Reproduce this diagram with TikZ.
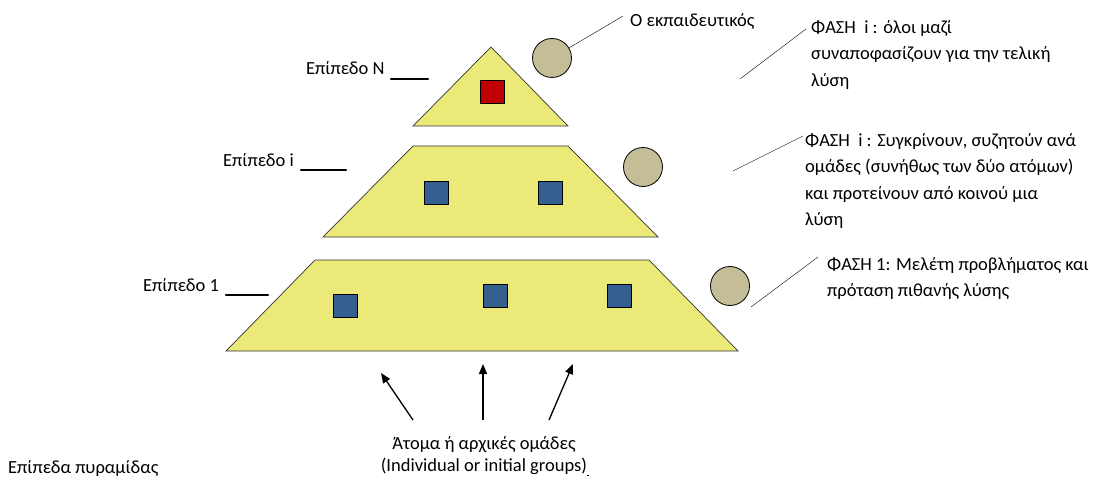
\documentclass[tikz,border=0pt]{standalone}
\usepackage{fontspec}
\setmainfont{Carlito}
\usetikzlibrary{arrows.meta}
\definecolor{pyryellow}{RGB}{235,234,120}
\definecolor{teachcol}{RGB}{196,189,151}
\definecolor{grpblue}{RGB}{53,94,145}
\definecolor{grpred}{RGB}{192,0,0}
\tikzset{
    level/.style={draw=black!80, fill=pyryellow, line width=0.7pt},
    member/.style={draw=black, line width=0.8pt, minimum width=24pt, minimum height=23pt, inner sep=0pt},
    teacher/.style={circle, draw=black, fill=teachcol, line width=0.8pt, minimum size=39pt, inner sep=0pt},
    mark line/.style={line width=2.2pt, line cap=round},
    txt/.style={font=\fontsize{18.5}{26.5}\selectfont, inner sep=0pt, align=left},
    up arrow/.style={-{Triangle[width=8pt,length=10pt]}, line width=1.3pt},
}
\begin{document}
\begin{tikzpicture}[x=1pt, y=-1pt]
    \useasboundingbox (0,0) rectangle (1102,486);
    % pyramid levels
    \draw[level] (491,47) -- (568,126) -- (413,126) -- cycle;
    \draw[level] (413,146) -- (568,146) -- (658,237) -- (323,237) -- cycle;
    \draw[level] (315,260) -- (649,260) -- (738,351) -- (226,351) -- cycle;
    % groups
    \node[member, fill=grpred] (gN) at (492,91.5) {};
    \node[member, fill=grpblue] (gi1) at (436,192.5) {};
    \node[member, fill=grpblue] (gi2) at (550,192.5) {};
    \node[member, fill=grpblue] (g11) at (345,306) {};
    \node[member, fill=grpblue] (g12) at (495,296) {};
    \node[member, fill=grpblue] (g13) at (619,296) {};
    % teacher
    \node[teacher] (tN) at (552,58) {};
    \node[teacher] (ti) at (643,167) {};
    \node[teacher] (t1) at (730,286) {};
    \node[txt, anchor=west] (teach) at (630,21) {Ο εκπαιδευτικός};
    \draw[thin] (tN) -- (623,16);
    % level labels
    \node[txt, anchor=west] (lN) at (306,68) {Επίπεδο Ν};
    \node[txt, anchor=west] (li) at (223,160) {Επίπεδο i};
    \node[txt, anchor=west] (l1) at (143,285) {Επίπεδο 1};
    \draw[mark line] (391,79) -- (428,79);
    \draw[mark line] (301,170) -- (346,170);
    \draw[mark line] (226,295) -- (268,295);
    % phases
    \coordinate (pNa) at (740,79);
    \coordinate (pNb) at (806,29);
    \draw[thin] (pNa) -- (pNb);
    \node[txt, anchor=north west] (phN) at (811,20) {ΦΑΣΗ \ i : όλοι μαζί\\ συναποφασίζουν για την τελική\\ λύση};
    \coordinate (pia) at (733,171);
    \coordinate (pib) at (803,136);
    \draw[thin] (pia) -- (pib);
    \node[txt, anchor=north west] (phi) at (805,133) {ΦΑΣΗ \ i : Συγκρίνουν, συζητούν ανά\\ ομάδες (συνήθως των δύο ατόμων)\\ και προτείνουν από κοινού μια\\ λύση};
    \coordinate (p1a) at (751,307);
    \coordinate (p1b) at (818,257);
    \draw[thin] (p1a) -- (p1b);
    \node[txt, anchor=north west] (ph1) at (827,257) {ΦΑΣΗ 1: Μελέτη προβλήματος και\\ πρόταση πιθανής λύσης};
    % individuals
    \node[txt, align=center, font=\fontsize{18.5}{22}\selectfont] (indiv) at (484,456) {Άτομα ή αρχικές ομάδες\\ (Individual or initial groups)\rlap{\rule[-4pt]{2pt}{0.4pt}}};
    \coordinate (a1) at (413,420);
    \coordinate (a2) at (483,420);
    \coordinate (a3) at (549,420);
    \draw[up arrow] (a1) -- (381,373);
    \draw[up arrow] (a2) -- (483,364);
    \draw[up arrow] (a3) -- (573,364);
    \node[txt, anchor=west] (pyr) at (8,468) {Επίπεδα πυραμίδας};
\end{tikzpicture}
\end{document}
